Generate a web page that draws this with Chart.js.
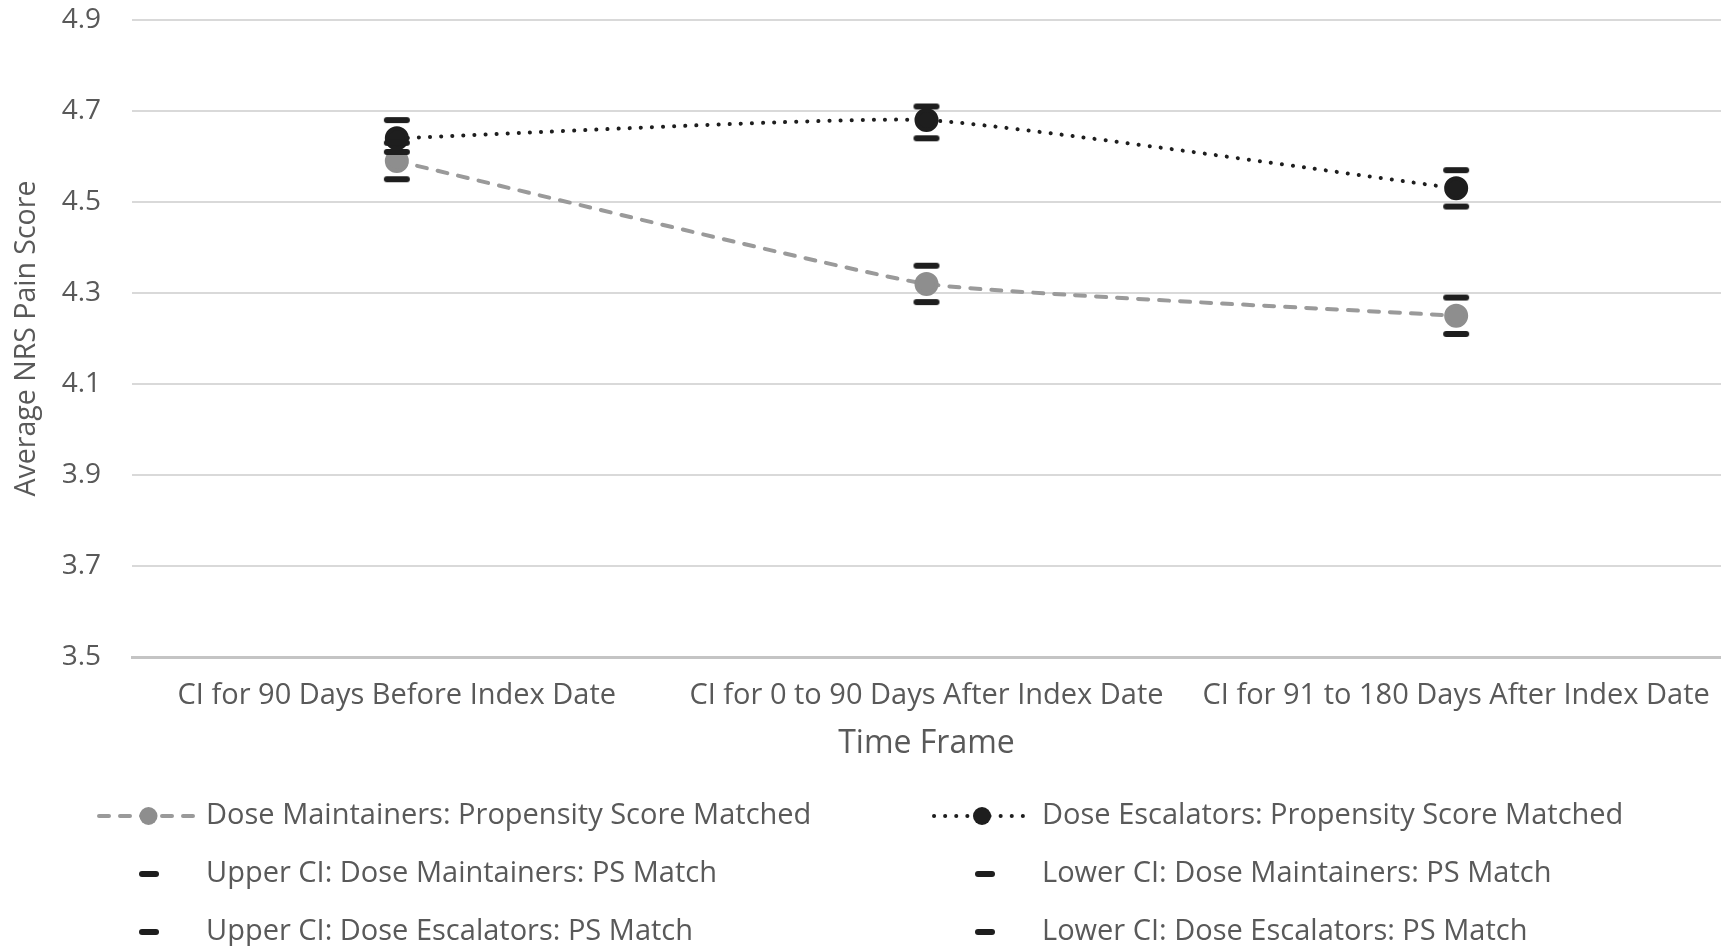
<!DOCTYPE html>
<html>
<head>
<meta charset="utf-8">
<title>Average NRS Pain Score by Time Frame</title>
<script src="https://cdn.jsdelivr.net/npm/chart.js@4.4.1/dist/chart.umd.min.js"></script>
<style>
  html, body { margin: 0; padding: 0; background: #ffffff; }
  #wrap { width: 1721px; height: 946px; }
</style>
</head>
<body>
<div id="wrap"><canvas id="chart" width="1721" height="946"></canvas></div>
<script>
// ---- data ----
const categories = [
  'CI for 90 Days Before Index Date',
  'CI for 0 to 90 Days After Index Date',
  'CI for 91 to 180 Days After Index Date'
];
const yTickValues = [3.5, 3.7, 3.9, 4.1, 4.3, 4.5, 4.7, 4.9];

const maintainersMean  = [4.59, 4.32, 4.25];
const escalatorsMean   = [4.64, 4.68, 4.53];
const maintainersUpper = [4.63, 4.36, 4.29];
const maintainersLower = [4.55, 4.28, 4.21];
const escalatorsUpper  = [4.68, 4.71, 4.57];
const escalatorsLower  = [4.61, 4.64, 4.49];

const seriesNames = [
  'Dose Maintainers: Propensity Score Matched',
  'Dose Escalators: Propensity Score Matched',
  'Upper CI: Dose Maintainers: PS Match',
  'Lower CI: Dose Maintainers: PS Match',
  'Upper CI: Dose Escalators: PS Match',
  'Lower CI: Dose Escalators: PS Match'
];

// ---- styles ----
const FONT = "'Open Sans', 'DejaVu Sans', sans-serif";
const TEXT = '#595959';
const GREY = '#9a9a9a';
const GREY_PT = '#8e8e8e';
const DARK = '#1e1e1e';

// short rounded bar used as the confidence-limit marker
function ciBar(w, h) {
  const c = document.createElement('canvas');
  c.width = w + 2; c.height = h + 2;
  const g = c.getContext('2d');
  g.fillStyle = DARK;
  g.beginPath();
  g.roundRect(1, 1, w, h, h / 2);
  g.fill();
  return c;
}
const ciMarker = ciBar(26, 6);

function ciDataset(label, values) {
  return {
    label, data: values, showLine: false,
    pointStyle: ciMarker, pointRadius: 13, pointHoverRadius: 13,
    borderColor: DARK, backgroundColor: DARK, order: 0
  };
}

// two-column legend below the axis
const legendPlugin = {
  id: 'twoColumnLegend',
  afterDraw(chart) {
    const ctx = chart.ctx;
    const rows = [816, 874, 932];
    const cols = [
      { x0: 99, x1: 198, ci: 149, text: 206 },
      { x0: 934, x1: 1030, ci: 985, text: 1042 }
    ];
    ctx.save();
    chart.data.datasets.forEach((ds, i) => {
      const col = cols[i % 2];
      const y = rows[Math.floor(i / 2)];
      if (ds.showLine === false) {
        ctx.fillStyle = DARK;
        ctx.beginPath();
        ctx.roundRect(col.ci - 10, y - 3, 20, 6, 3);
        ctx.fill();
      } else {
        ctx.strokeStyle = ds.borderColor;
        ctx.lineWidth = ds.borderWidth;
        ctx.lineCap = ds.borderCapStyle;
        ctx.setLineDash(ds.borderDash);
        ctx.beginPath();
        ctx.moveTo(col.x0, y);
        ctx.lineTo(col.x1, y);
        ctx.stroke();
        ctx.setLineDash([]);
        ctx.fillStyle = ds.pointBackgroundColor;
        ctx.beginPath();
        ctx.arc((col.x0 + col.x1) / 2, y, 9, 0, Math.PI * 2);
        ctx.fill();
      }
      ctx.fillStyle = TEXT;
      ctx.font = `29px ${FONT}`;
      ctx.textBaseline = 'middle';
      ctx.textAlign = 'left';
      ctx.fillText(ds.label, col.text, y);
    });
    ctx.restore();
  }
};

new Chart(document.getElementById('chart'), {
  type: 'line',
  data: {
    labels: categories,
    datasets: [
      {
        label: seriesNames[0], data: maintainersMean,
        borderColor: GREY, borderWidth: 4, borderDash: [10, 11], borderCapStyle: 'round',
        pointBackgroundColor: GREY_PT, pointBorderColor: GREY_PT, pointRadius: 10,
        tension: 0.12, order: 2
      },
      {
        label: seriesNames[1], data: escalatorsMean,
        borderColor: DARK, borderWidth: 4, borderDash: [0.1, 11], borderCapStyle: 'round',
        pointBackgroundColor: DARK, pointBorderColor: DARK, pointRadius: 10,
        tension: 0.15, order: 1
      },
      ciDataset(seriesNames[2], maintainersUpper),
      ciDataset(seriesNames[3], maintainersLower),
      ciDataset(seriesNames[4], escalatorsUpper),
      ciDataset(seriesNames[5], escalatorsLower)
    ]
  },
  options: {
    responsive: false,
    animation: false,
    devicePixelRatio: 1,
    layout: { autoPadding: false, padding: { top: 20, right: 0, bottom: 179, left: 0 } },
    plugins: { legend: { display: false }, tooltip: { enabled: false } },
    scales: {
      x: {
        offset: true,
        grid: { display: false, drawTicks: false },
        border: { display: true, color: '#c4c4c4', width: 3 },
        ticks: { color: TEXT, font: { family: FONT, size: 29 }, padding: 21, maxRotation: 0, autoSkip: false },
        title: { display: true, text: 'Time Frame', color: TEXT, font: { family: FONT, size: 32 }, padding: { top: 0, bottom: 4 } },
        afterFit(s) { s.height = 110; s.paddingLeft = 0; s.paddingRight = 0; }
      },
      y: {
        min: 3.5, max: 4.9,
        afterBuildTicks(s) { s.ticks = yTickValues.map(v => ({ value: v })); },
        grid: {
          drawTicks: false, lineWidth: 2,
          color: c => (c.tick && c.tick.value === yTickValues[0]) ? '#c4c4c4' : '#d9d9d9'
        },
        border: { display: false },
        ticks: { color: TEXT, font: { family: FONT, size: 28 }, padding: 31, callback: v => Number(v).toFixed(1) },
        title: { display: true, text: 'Average NRS Pain Score', color: TEXT, font: { family: FONT, size: 28.5 }, padding: { top: 10, bottom: 0 } },
        afterFit(s) { s.width = 132; s.paddingTop = 0; s.paddingBottom = 0; }
      }
    }
  },
  plugins: [legendPlugin]
});
</script>
</body>
</html>
